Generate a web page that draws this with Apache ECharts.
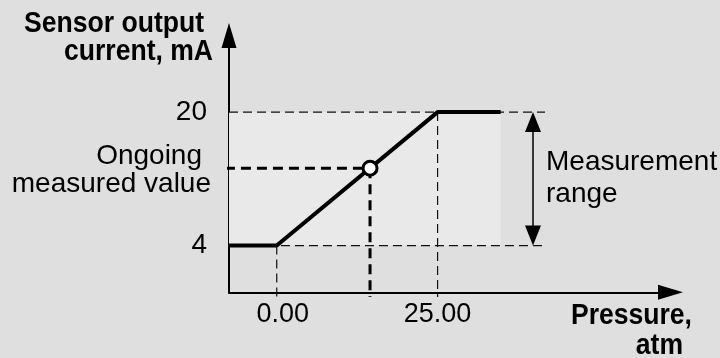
<!DOCTYPE html>
<html>
<head>
<meta charset="utf-8">
<script src="https://cdn.jsdelivr.net/npm/echarts@6/dist/echarts.min.js"></script>
<style>
  html, body { margin: 0; padding: 0; background: #dfdfdf; }
  #chart { width: 720px; height: 358px; }
</style>
</head>
<body>
<div id="chart"></div>
<script>
// axis ranges (in data units)
const xRange = [-7.42, 61.2];
const yRange = [-1.6, 29.18];
const xTicks = [0, 25];
const yTicks = [4, 20];

// sensor characteristic: pressure (atm) -> current (mA)
const curvePressure = [-7.42, 0, 25, 34.8];
const curveCurrent = [4, 4, 20, 20];

// the ongoing measured value
const ongoingPoint = [14.5, 13.28];

// measurement range band and arrow (arrow ends pulled in by half a head)
const rangeBand = [[xRange[0], 4], [34.8, 20]];
const rangeArrowX = 39.83;
const rangeArrowEnds = [5.2, 18.8];

// thin dashed guides [from, to]
const thinGuides = [
  [[-7.42, 20], [41.7, 20]],
  [[-8.05, 4], [41.7, 4]],
  [[0, 4], [0, -2.16]],
  [[25, 20], [25, -2.16]]
];
// bold dashed guides to the ongoing value
const boldGuides = [
  [[-8.05, ongoingPoint[1]], ongoingPoint],
  [ongoingPoint, [ongoingPoint[0], -2.16]]
];

const FONT = '"Liberation Sans", Arial, sans-serif';

let setChart = function(ele, options) {
  let myChart = echarts.init(ele, null, { renderer: 'canvas' })
  myChart.setOption(options)
  return myChart
}

let series = []

// shaded band under everything
series.push({
  type: 'line', data: [], silent: true,
  markArea: {
    silent: true,
    itemStyle: { color: '#e9e9e9' },
    data: [[{ coord: rangeBand[0] }, { coord: rangeBand[1] }]]
  },
  z: 1
})

thinGuides.forEach(g => {
  series.push({
    type: 'line', data: g, symbol: 'none', clip: false, silent: true,
    lineStyle: { color: '#111', width: 1.2, type: [9, 5] },
    z: 2
  })
})

boldGuides.forEach(g => {
  series.push({
    type: 'line', data: g, symbol: 'none', clip: false, silent: true,
    lineStyle: { color: '#000', width: 3, type: [10, 6] },
    z: 3
  })
})

series.push({
  type: 'line',
  data: curvePressure.map((p, i) => [p, curveCurrent[i]]),
  symbol: 'none', clip: false, silent: true,
  lineStyle: { color: '#000', width: 4 },
  z: 4
})

series.push({
  type: 'scatter', data: [ongoingPoint], symbol: 'circle', symbolSize: 14,
  itemStyle: { color: '#fff', borderColor: '#000', borderWidth: 3, opacity: 1 },
  silent: true, z: 6
})

// double-headed arrow for measurement range
series.push({
  type: 'line', data: [], silent: true,
  markLine: {
    silent: true,
    symbol: ['triangle', 'triangle'],
    symbolSize: [16, 20],
    label: { show: false },
    lineStyle: { color: '#000', width: 1.5, type: 'solid' },
    data: [[{ coord: [rangeArrowX, rangeArrowEnds[0]] }, { coord: [rangeArrowX, rangeArrowEnds[1]] }]]
  },
  z: 5
})

let textEl = function(text, x, y, align, bold) {
  return {
    type: 'text', x: x, y: y, silent: true, z: 10,
    scaleX: bold ? 0.9 : 1,
    style: {
      text: text, fill: '#000', align: align, verticalAlign: 'middle',
      font: (bold ? 'bold 29.5px ' : '28px ') + FONT
    }
  }
}

let options = {
  backgroundColor: '#dfdfdf',
  animation: false,
  grid: { left: 229, right: 49.5, top: 35.5, bottom: 65.7 },
  xAxis: {
    type: 'value', min: xRange[0], max: xRange[1],
    splitLine: { show: false }, axisTick: { show: false },
    axisLine: {
      onZero: false,
      symbol: ['none', 'triangle'], symbolSize: [15, 25],
      lineStyle: { color: '#000', width: 2 }
    },
    axisLabel: {
      customValues: xTicks, margin: 9,
      formatter: v => v === 0 ? '{s|0.00}' : v.toFixed(2),
      rich: { s: { padding: [0, 0, 0, 12], color: '#000', fontSize: 27, fontFamily: FONT } },
      color: '#000', fontSize: 27, fontFamily: FONT
    }
  },
  yAxis: {
    type: 'value', min: yRange[0], max: yRange[1],
    splitLine: { show: false }, axisTick: { show: false },
    axisLine: {
      onZero: false,
      symbol: ['none', 'triangle'], symbolSize: [15, 25],
      lineStyle: { color: '#000', width: 2 }
    },
    axisLabel: {
      customValues: yTicks, margin: 22,
      color: '#000', fontSize: 28, fontFamily: FONT
    }
  },
  graphic: [
    textEl('Sensor output', 204, 24, 'right', true),
    textEl('current, mA', 213, 52, 'right', true),
    textEl('Ongoing', 202, 156, 'right', false),
    textEl('measured value', 211, 184, 'right', false),
    textEl('Measurement', 546, 162, 'left', false),
    textEl('range', 546, 194, 'left', false),
    textEl('Pressure,', 692, 316, 'right', true),
    textEl('atm', 683, 346, 'right', true)
  ],
  series: series
}

setChart(document.getElementById('chart'), options)
</script>
</body>
</html>
